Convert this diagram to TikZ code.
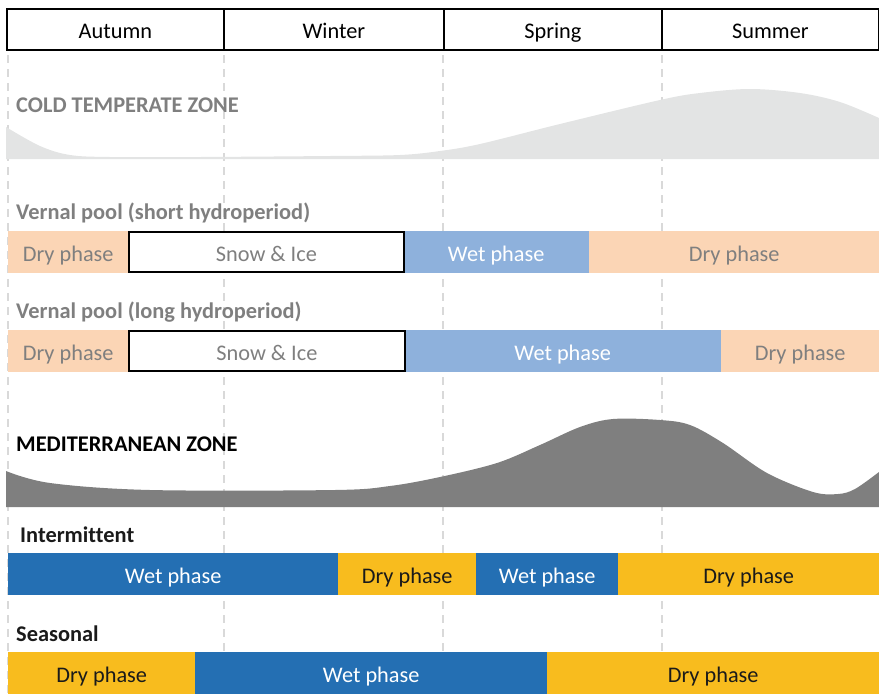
\documentclass[tikz,border=0pt]{standalone}
\usepackage{fontspec}
\setmainfont{Carlito}[Ligatures=NoCommon]
\definecolor{gridgray}{HTML}{D9D9D9}
\definecolor{labgray}{HTML}{7F7F7F}
\definecolor{lightarea}{HTML}{E3E4E4}
\definecolor{darkarea}{HTML}{7F7F7F}
\definecolor{peach}{HTML}{FBD5B5}
\definecolor{lblue}{HTML}{8EB1DC}
\definecolor{dblue}{HTML}{246FB3}
\definecolor{gold}{HTML}{F8BC1E}
\definecolor{darktext}{HTML}{1A1A1A}
\begin{document}
\begin{tikzpicture}[x=1pt,y=-1pt,
  txt/.style={font=\fontsize{22.3}{25}\selectfont},
  btxt/.style={font=\fontsize{22.4}{25}\selectfont\bfseries, inner sep=0pt, anchor=base west},
  season/.style={draw=black, line width=1.8pt, fill=white, minimum height=41pt, anchor=west, inner sep=0pt, txt, text height=17pt, text depth=0pt},
  seg/.style={minimum height=42pt, anchor=west, inner sep=0pt, txt, text height=19pt, text depth=0pt},
  drypale/.style={seg, fill=peach, text=labgray},
  wetpale/.style={seg, fill=lblue, text=white},
  snowbox/.style={seg, draw=black, line width=1.8pt, fill=white, text=labgray, minimum height=40pt},
  wetdark/.style={seg, fill=dblue, text=white},
  drygold/.style={seg, fill=gold, text=darktext},
  gridline/.style={draw=gridgray, line width=1.6pt, dash pattern=on 8pt off 6pt}
]
\useasboundingbox (0,0) rectangle (879,694);
% grid lines
\foreach \gx/\gn in {8/a,224/b,443/c,662/d}{
  \coordinate (gt\gn) at (\gx,55);
  \coordinate (gb\gn) at (\gx,694);
  \draw[gridline] (gt\gn) -- (gb\gn);
}
% header
\node[season, minimum width=217pt] (autumn) at (6,29.5) {Autumn};
\node[season, minimum width=220pt] (winter) at (223,29.5) {Winter};
\node[season, minimum width=218pt] (spring) at (443,29.5) {Spring};
\node[season, minimum width=217pt] (summer) at (661,29.5) {Summer};
% cold temperate area
\fill[lightarea] (6,159) -- (6,127) -- plot[smooth, tension=0.55] coordinates {(6,127) (40,146) (70,155) (110,157) (200,157) (330,156) (400,155) (440,151) (480,144) (560,124) (660,100) (700,93) (750,89) (800,93) (840,102) (879,118)} -- (879,159) -- cycle;
\node[btxt, text=labgray] (coldlab) at (16,112) {COLD TEMPERATE ZONE};
% vernal short
\node[btxt, text=labgray] (vslab) at (16,219) {Vernal pool (short hydroperiod)};
\node[drypale, minimum width=120pt] (vs1) at (8,252) {Dry phase};
\node[wetpale, minimum width=186pt] (vs3) at (403,252) {Wet phase};
\node[drypale, minimum width=290pt] (vs4) at (589,252) {Dry phase};
\node[snowbox, minimum width=275pt] (vs2) at (128,252) {Snow \& Ice};
% vernal long
\node[btxt, text=labgray] (vllab) at (16,318) {Vernal pool (long hydroperiod)};
\node[drypale, minimum width=120pt] (vl1) at (8,351) {Dry phase};
\node[wetpale, minimum width=317pt] (vl3) at (404,351) {Wet phase};
\node[drypale, minimum width=158pt] (vl4) at (721,351) {Dry phase};
\node[snowbox, minimum width=276pt] (vl2) at (128,351) {Snow \& Ice};
% mediterranean area
\fill[darkarea] (6,507) -- (6,471) -- plot[smooth, tension=0.55] coordinates {(6,471) (50,483) (150,490) (335,490) (390,486) (440,477) (497,463) (540,445) (580,427) (613,419) (660,420) (690,425) (723,443) (767,473) (813,492) (838,494) (855,489) (879,472)} -- (879,507) -- cycle;
\node[btxt, text=black] (medlab) at (16,451) {MEDITERRANEAN ZONE};
% intermittent
\node[btxt, text=darktext] (intlab) at (20,542) {Intermittent};
\node[wetdark, minimum width=330pt] (in1) at (8,574) {Wet phase};
\node[drygold, minimum width=138pt] (in2) at (338,574) {Dry phase};
\node[wetdark, minimum width=142pt] (in3) at (476,574) {Wet phase};
\node[drygold, minimum width=261pt] (in4) at (618,574) {Dry phase};
% seasonal
\node[btxt, text=darktext] (seaslab) at (16,641) {Seasonal};
\node[drygold, minimum width=187pt] (se1) at (8,673) {Dry phase};
\node[wetdark, minimum width=352pt] (se2) at (195,673) {Wet phase};
\node[drygold, minimum width=332pt] (se3) at (547,673) {Dry phase};
\end{tikzpicture}
\end{document}
